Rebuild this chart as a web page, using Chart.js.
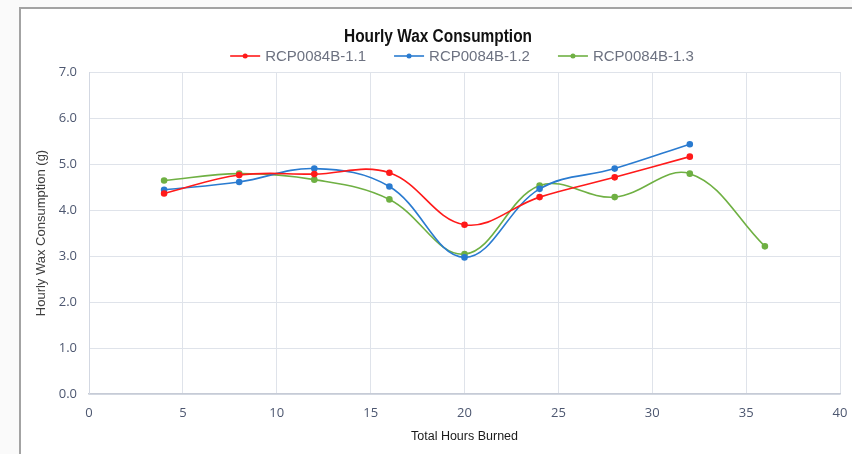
<!DOCTYPE html>
<html>
<head>
<meta charset="utf-8">
<script src="https://cdn.jsdelivr.net/npm/chart.js@4/dist/chart.umd.min.js"></script>
<style>
  html, body { margin: 0; padding: 0; background: #ffffff; }
  #wrap { position: relative; width: 852px; height: 454px; overflow: hidden; background: #fafafa; }
  #frame { position: absolute; left: 19px; top: 7px; width: 900px; height: 500px;
           border-left: 2px solid #a3a3a3; border-top: 2px solid #a3a3a3; background: #ffffff; }
  #c { position: absolute; left: 0; top: 0; }
</style>
</head>
<body>
<div id="wrap">
  <div id="frame"></div>
  <canvas id="c" width="852" height="454"></canvas>
</div>
<script>
// ---- data ----
const chartTitle = 'Hourly Wax Consumption';
const xTitle = 'Total Hours Burned';
const yTitle = 'Hourly Wax Consumption (g)';
const seriesNames = ['RCP0084B-1.1', 'RCP0084B-1.2', 'RCP0084B-1.3'];
const hoursA = [4, 8, 12, 16, 20, 24, 28, 32];
const hoursB = [4, 8, 12, 16, 20, 24, 28, 32, 36];
const wax11 = [4.36, 4.76, 4.78, 4.81, 3.68, 4.28, 4.71, 5.16];
const wax12 = [4.44, 4.61, 4.90, 4.51, 2.97, 4.46, 4.90, 5.43];
const wax13 = [4.64, 4.79, 4.66, 4.23, 3.04, 4.53, 4.28, 4.79, 3.21];
const xTicks = [0, 5, 10, 15, 20, 25, 30, 35, 40];
const yTicks = [0, 1, 2, 3, 4, 5, 6, 7];

const colors = ['#ff1a1a', '#2a7bd0', '#6fb043'];
const pts = (xs, ys) => xs.map((x, i) => ({ x: x, y: ys[i] }));

const sansFont = '"Liberation Sans", sans-serif';
const tickFont = '"Open Sans", "Liberation Sans", sans-serif';

function mkDs(label, data, color) {
  return {
    label: label, data: data,
    borderColor: color, backgroundColor: color,
    pointBackgroundColor: color, pointBorderColor: color,
    borderWidth: 1.6, pointRadius: 2.5, pointHoverRadius: 2.5,
    tension: 0.38, fill: false
  };
}

const headerPlugin = {
  id: 'header',
  afterDraw(chart) {
    const ctx = chart.ctx;
    ctx.save();
    // title (condensed look via horizontal scaling)
    ctx.fillStyle = '#111111';
    ctx.font = 'bold 18px ' + sansFont;
    ctx.textAlign = 'center';
    ctx.textBaseline = 'middle';
    const tw = ctx.measureText(chartTitle).width;
    const sx = Math.min(1, 188 / tw);
    ctx.save();
    ctx.translate(438, 37);
    ctx.scale(sx, 1);
    ctx.fillText(chartTitle, 0, 0);
    ctx.restore();

    // legend
    ctx.font = '15px ' + sansFont;
    const items = chart.data.datasets.map(ds => ({ label: ds.label, color: ds.borderColor, w: ctx.measureText(ds.label).width }));
    const lineW = 30, g1 = 5, g2 = 28;
    let total = 0;
    items.forEach((it, i) => { total += lineW + g1 + it.w + (i ? g2 : 0); });
    let x = 462 - total / 2;
    const y = 56;
    ctx.textAlign = 'left';
    items.forEach(it => {
      ctx.strokeStyle = it.color; ctx.lineWidth = 1.6;
      ctx.beginPath(); ctx.moveTo(x, y); ctx.lineTo(x + lineW, y); ctx.stroke();
      ctx.fillStyle = it.color;
      ctx.beginPath(); ctx.arc(x + lineW / 2, y, 2.5, 0, Math.PI * 2); ctx.fill();
      ctx.fillStyle = '#6d7281';
      ctx.fillText(it.label, x + lineW + g1, y + 1);
      x += lineW + g1 + it.w + g2;
    });
    ctx.restore();
  }
};

new Chart(document.getElementById('c'), {
  type: 'line',
  data: {
    datasets: [
      mkDs(seriesNames[0], pts(hoursA, wax11), colors[0]),
      mkDs(seriesNames[1], pts(hoursA, wax12), colors[1]),
      mkDs(seriesNames[2], pts(hoursB, wax13), colors[2])
    ]
  },
  options: {
    responsive: false,
    devicePixelRatio: 1,
    animation: false,
    layout: { padding: { top: 72, right: 12, bottom: 6, left: 0 } },
    plugins: {
      legend: { display: false },
      title: { display: false },
      tooltip: { enabled: false }
    },
    scales: {
      x: {
        type: 'linear', min: xTicks[0], max: xTicks[xTicks.length - 1],
        afterBuildTicks: s => { s.ticks = xTicks.map(v => ({ value: v })); },
        afterFit: s => { s.height = 54; s.paddingLeft = 0; s.paddingRight = 0; },
        grid: { color: '#dfe3ea', lineWidth: 1, drawTicks: false },
        border: { color: '#c6cbd6', width: 1.5 },
        ticks: { padding: 11, color: '#4d5770', font: { family: tickFont, size: 13 }, maxRotation: 0 },
        title: { display: true, text: xTitle, color: '#1a1a1a', font: { family: sansFont, size: 12.5 }, padding: { top: 8, bottom: 4 } }
      },
      y: {
        min: yTicks[0], max: yTicks[yTicks.length - 1],
        afterBuildTicks: s => { s.ticks = yTicks.map(v => ({ value: v })); },
        afterFit: s => { s.width = 89; },
        grid: { color: '#dfe3ea', lineWidth: 1, drawTicks: false },
        border: { color: '#d3d8e2', width: 1 },
        ticks: { padding: 12, color: '#4d5770', font: { family: tickFont, size: 13 }, callback: v => Number(v).toFixed(1) },
        title: { display: true, text: yTitle, color: '#404040', font: { family: sansFont, size: 13 }, padding: { top: 34, bottom: 0 } }
      }
    }
  },
  plugins: [headerPlugin]
});
</script>
</body>
</html>
